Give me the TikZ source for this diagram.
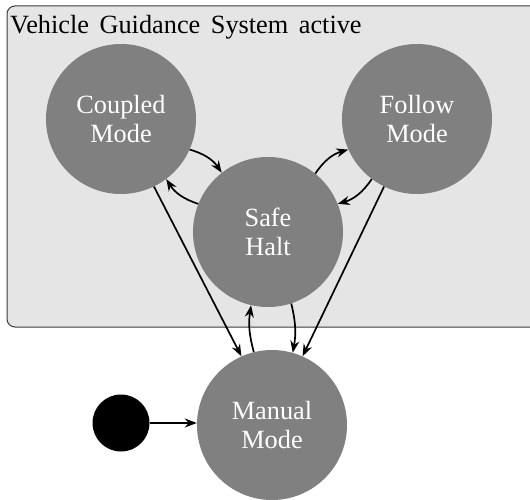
\documentclass[tikz,border=0pt]{standalone}
\usepackage{fontspec}
\setmainfont{Liberation Serif}
\newfontfamily\diagfont{Liberation Serif}
\usetikzlibrary{arrows.meta}
\newcommand\widespaces{\spaceskip 0.4em\relax}
\begin{document}
\begin{tikzpicture}[x=1pt,y=1pt,
  state/.style={circle,fill={rgb,255:red,128;green,128;blue,128},draw=none,minimum size=150pt,inner sep=0pt,
    text=white,align=center,font=\diagfont\fontsize{26.3}{29}\selectfont},
  startdot/.style={circle,fill=black,draw=none,minimum size=57pt,inner sep=0pt},
  trans/.style={-{Stealth[length=12pt,width=9pt]},line width=1.7pt},
  group/.style={rounded corners=8pt,fill={rgb,255:red,229;green,229;blue,229},draw={rgb,255:red,60;green,60;blue,60},line width=1pt}]
\clip (0,0) rectangle (530,-500);
\fill[white] (0,0) rectangle (530,-500);
\draw[group] (7,-6) rectangle (545,-327);
\node[anchor=base west,inner sep=0pt,font=\diagfont\fontsize{26.3}{29}\selectfont\widespaces] (title) at (10,-34) {Vehicle Guidance System active};
\node[state] (C) at (121,-119) {Coupled\\Mode};
\node[state] (F) at (417,-119) {Follow\\Mode};
\node[state] (S) at (268,-232) {Safe\\Halt};
\node[state] (M) at (272,-425) {Manual\\Mode};
\node[startdot] (I) at (121,-423) {};
\draw[trans] (I) -- (M.west |- I);
\draw[trans] (C.-24) to[bend left=20] (S.128);
\draw[trans] (S.158) to[bend left=20] (C.-53);
\draw[trans] (S.51) to[bend left=20] (F.-156);
\draw[trans] (F.-127) to[bend left=20] (S.22);
\draw[trans] (C.-64) -- (M.114);
\draw[trans] (F.-116) -- (M.66);
\draw[trans] (M.104) to[bend left=12] (S.-103);
\draw[trans] (S.-72) to[bend left=12] (M.74);
\end{tikzpicture}
\end{document}
